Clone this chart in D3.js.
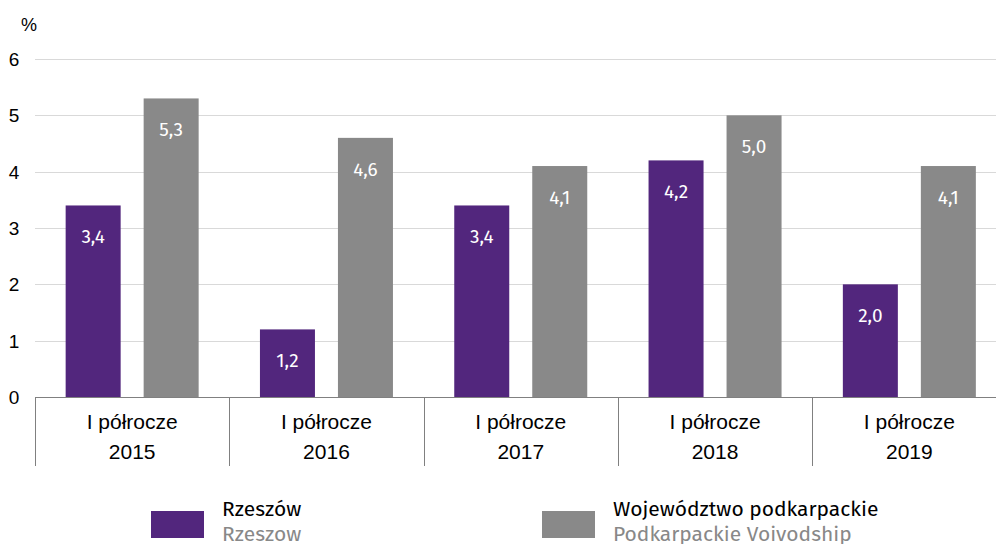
<!DOCTYPE html>
<html>
<head>
<meta charset="utf-8">
<script src="https://cdn.jsdelivr.net/npm/d3@7"></script>
<style>
  body { margin: 0; background: #fff; }
  text { font-family: "Fira Sans", "Noto Sans", sans-serif; }
  .calib { font-family: "Liberation Sans", Arial, sans-serif; }
</style>
</head>
<body>
<div id="chart"></div>
<script>
var years = ["2015", "2016", "2017", "2018", "2019"]
var rzeszow = [3.4, 1.2, 3.4, 4.2, 2.0]
var podkarpackie = [5.3, 4.6, 4.1, 5.0, 4.1]
var yTicks = [0, 1, 2, 3, 4, 5, 6]
var seriesNames = ["Rzeszów", "Województwo podkarpackie"]
var seriesNamesEn = ["Rzeszow", "Podkarpackie Voivodship"]
var colors = ["#52267d", "#898989"]

var width = 996, height = 544
var plotLeft = 35, plotRight = 1006.5, plotTop = 59, plotBottom = 397

var svg = d3.select("#chart").append("svg")
    .attr("width", width)
    .attr("height", height)

var x = d3.scaleBand().domain(years).range([plotLeft, plotRight])
var y = d3.scaleLinear().domain([0, 6]).range([plotBottom, plotTop])
var barW = 55, gap = 23

// gridlines
svg.selectAll(".grid").data(yTicks.filter(d => d > 0)).enter()
    .append("line")
    .attr("x1", plotLeft).attr("x2", width)
    .attr("y1", d => Math.round(y(d)) + 0.5).attr("y2", d => Math.round(y(d)) + 0.5)
    .attr("stroke", "#d9d9d9").attr("stroke-width", 1)

// y labels
svg.selectAll(".ylab").data(yTicks).enter()
    .append("text")
    .attr("class", "calib")
    .attr("x", 14).attr("y", d => y(d))
    .attr("dy", "0.36em")
    .attr("text-anchor", "middle")
    .attr("font-size", 19)
    .attr("fill", "#000")
    .text(d => d)

svg.append("text")
    .attr("class", "calib")
    .attr("x", 29).attr("y", 25)
    .attr("dy", "0.36em")
    .attr("text-anchor", "middle")
    .attr("font-size", 18)
    .text("%")

// bars
var data = years.map((yr, i) => ({ year: yr, vals: [rzeszow[i], podkarpackie[i]] }))
var groups = svg.selectAll(".grp").data(data).enter()
    .append("g")
    .attr("transform", d => "translate(" + (x(d.year) + x.bandwidth() / 2 - (barW * 2 + gap) / 2) + ",0)")

groups.selectAll("rect").data(d => d.vals).enter()
    .append("rect")
    .attr("x", (d, i) => i * (barW + gap))
    .attr("y", d => y(d))
    .attr("width", barW)
    .attr("height", d => plotBottom - y(d))
    .attr("fill", (d, i) => colors[i])

groups.selectAll(".val").data(d => d.vals).enter()
    .append("text")
    .attr("x", (d, i) => i * (barW + gap) + barW / 2)
    .attr("y", d => y(d) + 31)
    .attr("dy", "0.35em")
    .attr("text-anchor", "middle")
    .attr("font-size", 19)
    .attr("fill", "#fff")
    .text(d => d.toFixed(1).replace(".", ","))

// x axis
svg.append("line")
    .attr("x1", plotLeft).attr("x2", width)
    .attr("y1", plotBottom + 0.5).attr("y2", plotBottom + 0.5)
    .attr("stroke", "#808080").attr("stroke-width", 1)

var seps = years.map(d => x(d)).concat([plotRight])
svg.selectAll(".sep").data(seps).enter()
    .append("line")
    .attr("x1", d => Math.round(d) + 0.5).attr("x2", d => Math.round(d) + 0.5)
    .attr("y1", plotBottom).attr("y2", 466)
    .attr("stroke", "#808080").attr("stroke-width", 1)

var catLab = svg.selectAll(".cat").data(years).enter()
    .append("g")
    .attr("transform", d => "translate(" + (x(d) + x.bandwidth() / 2) + ",0)")
catLab.append("text")
    .attr("class", "calib")
    .attr("y", 421).attr("dy", "0.36em")
    .attr("text-anchor", "middle").attr("font-size", 21)
    .text("I półrocze")
catLab.append("text")
    .attr("class", "calib")
    .attr("y", 451).attr("dy", "0.36em")
    .attr("text-anchor", "middle").attr("font-size", 21)
    .text(d => d)

// legend
var legX = [151, 542]
var leg = svg.selectAll(".leg").data(seriesNames).enter()
    .append("g")
    .attr("transform", (d, i) => "translate(" + legX[i] + ",0)")
leg.append("rect")
    .attr("x", 0).attr("y", 511)
    .attr("width", 53).attr("height", 27)
    .attr("fill", (d, i) => colors[i])
leg.append("text")
    .attr("x", 71).attr("y", 509).attr("dy", "0.35em")
    .attr("font-size", 21).attr("fill", "#000")
    .text(d => d)
leg.append("text")
    .attr("x", 71).attr("y", 534).attr("dy", "0.35em")
    .attr("font-size", 21).attr("fill", "#888")
    .text((d, i) => seriesNamesEn[i])
</script>
</body>
</html>
